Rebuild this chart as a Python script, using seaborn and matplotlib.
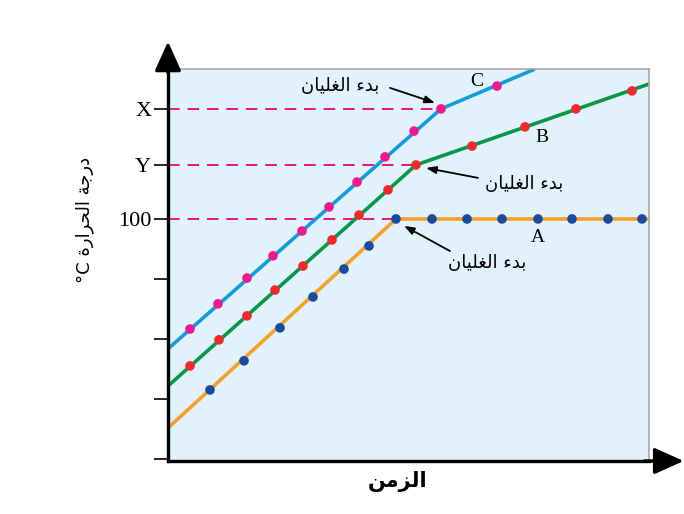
import numpy as np
import pandas as pd
import matplotlib
matplotlib.use("Agg")
import matplotlib.pyplot as plt
import seaborn as sns

# --- data (time in arbitrary units, temperature in C) ---
a_line_t = [0, 22.8, 48.1]
a_line_T = [30.3, 100, 100]
a_dots_t = [4.2, 7.6, 11.2, 14.5, 17.6, 20.1, 22.8, 26.4, 29.9, 33.4, 37.0, 40.4, 44.0, 47.4]
a_dots_T = [43.0, 52.7, 63.7, 74.0, 83.3, 91.0, 100, 100, 100, 100, 100, 100, 100, 100]

b_line_t = [0, 24.8, 48.1]
b_line_T = [44.3, 118, 145]
b_dots_t = [2.2, 5.1, 7.9, 10.7, 13.5, 16.4, 19.1, 22.0, 24.8, 30.4, 35.7, 40.8, 46.4]
b_dots_T = [51.0, 59.7, 67.7, 76.3, 84.3, 93.0, 101.3, 109.7, 118, 124.3, 130.7, 136.7, 142.7]

c_line_t = [0, 27.3, 36.5]
c_line_T = [56.7, 136.7, 149.7]
c_dots_t = [2.2, 5.0, 7.9, 10.5, 13.4, 16.1, 18.9, 21.7, 24.6, 27.3, 32.9]
c_dots_T = [63.3, 71.7, 80.3, 87.7, 96.0, 104.0, 112.3, 120.7, 129.3, 136.7, 144.3]

boil_t = [22.8, 24.8, 27.3]
boil_T = [100, 118, 136.7]

ytick_vals = [20, 40, 60, 80, 100, 118, 136.7]
ytick_labels = ['', '', '', '', '100', 'Y', 'X']

# minimal arabic shaping (presentation forms: isolated, final, initial, medial)
FORMS = {
    'ب': (0xFE8F, 0xFE90, 0xFE91, 0xFE92), 'د': (0xFEA9, 0xFEAA, None, None),
    'ء': (0xFE80, None, None, None), 'ا': (0xFE8D, 0xFE8E, None, None),
    'ل': (0xFEDD, 0xFEDE, 0xFEDF, 0xFEE0), 'غ': (0xFECD, 0xFECE, 0xFECF, 0xFED0),
    'ي': (0xFEF1, 0xFEF2, 0xFEF3, 0xFEF4), 'ن': (0xFEE5, 0xFEE6, 0xFEE7, 0xFEE8),
    'ز': (0xFEAF, 0xFEB0, None, None), 'م': (0xFEE1, 0xFEE2, 0xFEE3, 0xFEE4),
    'ر': (0xFEAD, 0xFEAE, None, None), 'ج': (0xFE9D, 0xFE9E, 0xFE9F, 0xFEA0),
    'ة': (0xFE93, 0xFE94, None, None), 'ح': (0xFEA1, 0xFEA2, 0xFEA3, 0xFEA4),
}


def shape(text):
    out = []
    for i, ch in enumerate(text):
        if ch not in FORMS:
            out.append(ch)
            continue
        f = FORMS[ch]
        prev = text[i - 1] if i > 0 else ''
        nxt = text[i + 1] if i + 1 < len(text) else ''
        join_prev = prev in FORMS and FORMS[prev][2] is not None and f[1] is not None
        join_next = f[2] is not None and nxt in FORMS and FORMS[nxt][1] is not None
        out.append(chr(f[(1 if join_prev else 0) + (2 if join_next else 0)]))
    return ''.join(reversed(out))


boil_txt = shape('بدء الغليان')

fig = plt.figure(figsize=(6.84, 5.14), dpi=100)
ax = fig.add_axes([168 / 684, 1 - 461 / 514, 481 / 684, 392 / 514])
ax.set_facecolor('#E1F2FC')

# dashed guides
for t, T in zip(boil_t, boil_T):
    ax.plot([0, t], [T, T], color='#E5177E', lw=1.4, dashes=(6, 4), zorder=1)

series = [
    (a_line_t, a_line_T, a_dots_t, a_dots_T, '#F5A02A', '#1C4A9C'),
    (b_line_t, b_line_T, b_dots_t, b_dots_T, '#0A9648', '#EE2A2E'),
    (c_line_t, c_line_T, c_dots_t, c_dots_T, '#169BD8', '#EC1B8D'),
]
for lt, lT, dt, dT, lc, dc in series:
    sns.lineplot(x=lt, y=lT, sort=False, color=lc, lw=2.6, ax=ax, zorder=2)
    sns.scatterplot(x=dt, y=dT, color=dc, s=48, edgecolor='none', ax=ax, zorder=3)

serif = 'Liberation Serif'
ax.text(30.9, 145.7, 'C', fontsize=14, family=serif, ha='center', va='center')
ax.text(37.4, 127.0, 'B', fontsize=14, family=serif, ha='center', va='center')
ax.text(37.0, 93.7, 'A', fontsize=14, family=serif, ha='center', va='center')

arrow = dict(arrowstyle='-|>,head_length=0.6,head_width=0.22', color='black', lw=1.3,
             shrinkA=0, shrinkB=0)
ann = [((17.2, 144.3), (22.2, 143.7), (26.7, 138.7)),
       ((35.6, 111.7), (31.0, 113.7), (25.8, 117.0)),
       ((31.9, 85.3), (28.2, 89.3), (23.6, 97.7))]
for txt_xy, tail, tip in ann:
    ax.text(*txt_xy, boil_txt, fontsize=13, family='DejaVu Sans', ha='center', va='center')
    ax.annotate('', xy=tip, xytext=tail, arrowprops=arrow)

ax.set_xlim(0, 48.1)
ax.set_ylim(19.3, 150)
ax.set_xticks([])
ax.set_yticks(ytick_vals)
ax.set_yticklabels(ytick_labels, fontsize=16, family=serif)
ax.tick_params(axis='y', length=10, width=1.2, pad=2)
ax.set_xlabel('')
ax.set_ylabel('')

for s in ['top', 'right']:
    ax.spines[s].set_color('#A8A8A8')
    ax.spines[s].set_linewidth(1.2)
for s in ['left', 'bottom']:
    ax.spines[s].set_color('black')
    ax.spines[s].set_linewidth(2.4)

# axis arrows
head = dict(arrowstyle='-|>,head_length=1.0,head_width=0.45', color='black', lw=2.4,
            shrinkA=0, shrinkB=0, mutation_scale=18)
ax.annotate('', xy=(0, 1.07), xytext=(0, 0.99), xycoords='axes fraction', arrowprops=head,
            annotation_clip=False)
ax.annotate('', xy=(1.072, 0), xytext=(0.99, 0), xycoords='axes fraction', arrowprops=head,
            annotation_clip=False)

fig.text(85 / 684, 1 - 220 / 514, '°C ' + shape('درجة الحرارة'), rotation=90,
         fontsize=13, family='DejaVu Sans', ha='center', va='center')
fig.text(398 / 684, 1 - 482 / 514, shape('الزمن'), fontsize=15, weight='bold',
         family='DejaVu Sans', ha='center', va='center')

fig.savefig('out.png', dpi=100)
